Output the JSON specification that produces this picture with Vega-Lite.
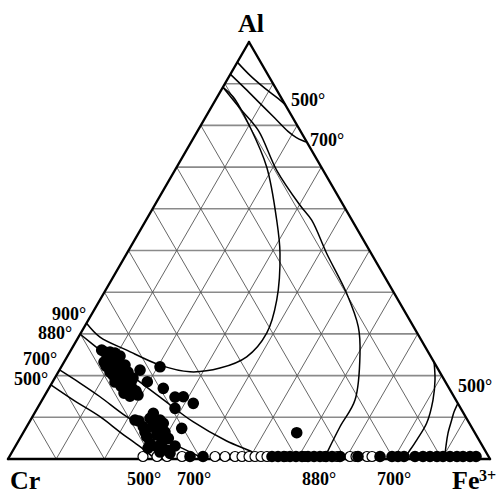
{
  "$schema": "https://vega.github.io/schema/vega-lite/v6.json",
  "width": 482,
  "height": 417,
  "autosize": {"type": "none"},
  "padding": {"left": 8, "top": 42, "right": 12, "bottom": 36},
  "background": "white",
  "config": {"view": {"stroke": null}},
  "datasets": {
    "hgrid": [
      {"x": 5, "y": 8.66, "x2": 95, "y2": 8.66},
      {"x": 10, "y": 17.32, "x2": 90, "y2": 17.32},
      {"x": 15, "y": 25.98, "x2": 85, "y2": 25.98},
      {"x": 20, "y": 34.64, "x2": 80, "y2": 34.64},
      {"x": 25, "y": 43.3, "x2": 75, "y2": 43.3},
      {"x": 30, "y": 51.96, "x2": 70, "y2": 51.96},
      {"x": 35, "y": 60.62, "x2": 65, "y2": 60.62},
      {"x": 40, "y": 69.28, "x2": 60, "y2": 69.28},
      {"x": 45, "y": 77.94, "x2": 55, "y2": 77.94}
    ],
    "dgrid": [
      {"x": 10, "y": 0, "x2": 55, "y2": 77.94},
      {"x": 20, "y": 0, "x2": 60, "y2": 69.28},
      {"x": 30, "y": 0, "x2": 65, "y2": 60.62},
      {"x": 40, "y": 0, "x2": 70, "y2": 51.96},
      {"x": 50, "y": 0, "x2": 75, "y2": 43.3},
      {"x": 60, "y": 0, "x2": 80, "y2": 34.64},
      {"x": 70, "y": 0, "x2": 85, "y2": 25.98},
      {"x": 80, "y": 0, "x2": 90, "y2": 17.32},
      {"x": 90, "y": 0, "x2": 95, "y2": 8.66},
      {"x": 10, "y": 0, "x2": 5, "y2": 8.66},
      {"x": 20, "y": 0, "x2": 10, "y2": 17.32},
      {"x": 30, "y": 0, "x2": 15, "y2": 25.98},
      {"x": 40, "y": 0, "x2": 20, "y2": 34.64},
      {"x": 50, "y": 0, "x2": 25, "y2": 43.3},
      {"x": 60, "y": 0, "x2": 30, "y2": 51.96},
      {"x": 70, "y": 0, "x2": 35, "y2": 60.62},
      {"x": 80, "y": 0, "x2": 40, "y2": 69.28},
      {"x": 90, "y": 0, "x2": 45, "y2": 77.94}
    ],
    "edges": [
      {"x": 0, "y": 0, "x2": 100, "y2": 0},
      {"x": 0, "y": 0, "x2": 50, "y2": 86.6},
      {"x": 100, "y": 0, "x2": 50, "y2": 86.6}
    ],
    "curves": [
      {"c": "900", "i": 0, "x": 44.6, "y": 77.2},
      {"c": "900", "i": 1, "x": 46.74, "y": 75.17},
      {"c": "900", "i": 2, "x": 50.21, "y": 68.94},
      {"c": "900", "i": 3, "x": 53.67, "y": 60.64},
      {"c": "900", "i": 4, "x": 55.75, "y": 49.59},
      {"c": "900", "i": 5, "x": 56.43, "y": 42.74},
      {"c": "900", "i": 6, "x": 55.75, "y": 32.99},
      {"c": "900", "i": 7, "x": 53.67, "y": 26.14},
      {"c": "900", "i": 8, "x": 49.52, "y": 21.22},
      {"c": "900", "i": 9, "x": 43.98, "y": 18.88},
      {"c": "900", "i": 10, "x": 37.76, "y": 18.11},
      {"c": "900", "i": 11, "x": 31.54, "y": 19.5},
      {"c": "900", "i": 12, "x": 24.63, "y": 22.61},
      {"c": "900", "i": 13, "x": 19.09, "y": 25.31},
      {"c": "900", "i": 14, "x": 16.3, "y": 28.2},
      {"c": "880a", "i": 0, "x": 44.6, "y": 77.2},
      {"c": "880a", "i": 1, "x": 48.13, "y": 72.82},
      {"c": "880a", "i": 2, "x": 51.93, "y": 68.26},
      {"c": "880a", "i": 3, "x": 55.75, "y": 59.96},
      {"c": "880a", "i": 4, "x": 60.58, "y": 52.7},
      {"c": "880a", "i": 5, "x": 63.01, "y": 49.59},
      {"c": "880a", "i": 6, "x": 66.12, "y": 42.68},
      {"c": "880a", "i": 7, "x": 70.27, "y": 34.38},
      {"c": "880a", "i": 8, "x": 72.68, "y": 27.45},
      {"c": "880a", "i": 9, "x": 73.03, "y": 21.93},
      {"c": "880a", "i": 10, "x": 71.99, "y": 12.24},
      {"c": "880a", "i": 11, "x": 68.88, "y": 6.7},
      {"c": "880a", "i": 12, "x": 66.12, "y": 1.18},
      {"c": "880a", "i": 13, "x": 65.56, "y": 0},
      {"c": "880b", "i": 0, "x": 15.0, "y": 25.9},
      {"c": "880b", "i": 1, "x": 19.09, "y": 22.61},
      {"c": "880b", "i": 2, "x": 24.63, "y": 18.11},
      {"c": "880b", "i": 3, "x": 31.54, "y": 12.86},
      {"c": "880b", "i": 4, "x": 38.38, "y": 7.74},
      {"c": "880b", "i": 5, "x": 45.37, "y": 3.73},
      {"c": "880b", "i": 6, "x": 50.56, "y": 1.51},
      {"c": "880b", "i": 7, "x": 53.11, "y": 0},
      {"c": "700a", "i": 0, "x": 10.7, "y": 18.5},
      {"c": "700a", "i": 1, "x": 14.94, "y": 15.77},
      {"c": "700a", "i": 2, "x": 19.09, "y": 12.93},
      {"c": "700a", "i": 3, "x": 24.63, "y": 8.78},
      {"c": "700a", "i": 4, "x": 31.54, "y": 4.63},
      {"c": "700a", "i": 5, "x": 39.83, "y": 0.48},
      {"c": "700a", "i": 6, "x": 41.08, "y": 0},
      {"c": "500a", "i": 0, "x": 8.9, "y": 15.4},
      {"c": "500a", "i": 1, "x": 13.9, "y": 12.03},
      {"c": "500a", "i": 2, "x": 19.09, "y": 8.78},
      {"c": "500a", "i": 3, "x": 23.24, "y": 5.6},
      {"c": "500a", "i": 4, "x": 27.39, "y": 2.55},
      {"c": "500a", "i": 5, "x": 30.08, "y": 0.48},
      {"c": "500a", "i": 6, "x": 31.12, "y": 0},
      {"c": "500t", "i": 0, "x": 47.61, "y": 82.37},
      {"c": "500t", "i": 1, "x": 50.21, "y": 79.67},
      {"c": "500t", "i": 2, "x": 53.32, "y": 76.97},
      {"c": "500t", "i": 3, "x": 56.02, "y": 74.9},
      {"c": "500t", "i": 4, "x": 57.57, "y": 73.55},
      {"c": "700t", "i": 0, "x": 46.16, "y": 79.88},
      {"c": "700t", "i": 1, "x": 49.17, "y": 76.97},
      {"c": "700t", "i": 2, "x": 52.28, "y": 73.86},
      {"c": "700t", "i": 3, "x": 55.39, "y": 70.75},
      {"c": "700t", "i": 4, "x": 58.09, "y": 68.05},
      {"c": "700t", "i": 5, "x": 59.75, "y": 66.8},
      {"c": "700t", "i": 6, "x": 61.2, "y": 66.08},
      {"c": "700t", "i": 7, "x": 62.0, "y": 65.8},
      {"c": "700r", "i": 0, "x": 88.4, "y": 20.12},
      {"c": "700r", "i": 1, "x": 88.59, "y": 16.39},
      {"c": "700r", "i": 2, "x": 88.17, "y": 12.24},
      {"c": "700r", "i": 3, "x": 86.87, "y": 7.47},
      {"c": "700r", "i": 4, "x": 84.79, "y": 3.94},
      {"c": "700r", "i": 5, "x": 82.99, "y": 1.24},
      {"c": "700r", "i": 6, "x": 82.16, "y": 0},
      {"c": "500r", "i": 0, "x": 93.34, "y": 11.56},
      {"c": "500r", "i": 1, "x": 92.53, "y": 9.75},
      {"c": "500r", "i": 2, "x": 92.05, "y": 8.09},
      {"c": "500r", "i": 3, "x": 91.29, "y": 5.39},
      {"c": "500r", "i": 4, "x": 90.87, "y": 2.7},
      {"c": "500r", "i": 5, "x": 90.56, "y": 0}
    ],
    "open": [
      {"x": 28.01, "y": 0.52}, {"x": 30.91, "y": 0.52}, {"x": 32.99, "y": 0.52},
      {"x": 36.1, "y": 0.52}, {"x": 42.95, "y": 0.52}, {"x": 45.02, "y": 0.52},
      {"x": 47.1, "y": 0.52}, {"x": 48.55, "y": 0.52}, {"x": 50.0, "y": 0.52},
      {"x": 51.24, "y": 0.52}, {"x": 52.49, "y": 0.52}, {"x": 53.73, "y": 0.52},
      {"x": 57.47, "y": 0.52}, {"x": 61.62, "y": 0.52}, {"x": 65.77, "y": 0.52},
      {"x": 68.26, "y": 0.52}, {"x": 70.95, "y": 0.52}, {"x": 72.2, "y": 0.52},
      {"x": 74.48, "y": 0.52}, {"x": 75.52, "y": 0.52}
    ],
    "filled": [
      {"x": 19.44, "y": 22.61}, {"x": 21.16, "y": 22.2}, {"x": 22.2, "y": 21.99},
      {"x": 20.75, "y": 20.95}, {"x": 21.78, "y": 20.54}, {"x": 22.82, "y": 20.12},
      {"x": 20.33, "y": 19.29}, {"x": 21.37, "y": 18.88}, {"x": 22.41, "y": 18.46},
      {"x": 23.44, "y": 18.05}, {"x": 21.78, "y": 17.43}, {"x": 23.03, "y": 16.8},
      {"x": 24.07, "y": 16.39}, {"x": 24.9, "y": 15.77}, {"x": 23.44, "y": 15.15},
      {"x": 24.69, "y": 14.73}, {"x": 25.73, "y": 14.73}, {"x": 26.56, "y": 14.11},
      {"x": 25.31, "y": 13.07}, {"x": 22.82, "y": 19.29}, {"x": 27.39, "y": 18.46},
      {"x": 20.12, "y": 22.2}, {"x": 23.24, "y": 21.37}, {"x": 24.27, "y": 19.5},
      {"x": 19.92, "y": 20.12}, {"x": 24.9, "y": 18.05}, {"x": 25.93, "y": 16.8},
      {"x": 24.07, "y": 13.69}, {"x": 26.97, "y": 13.28}, {"x": 22.2, "y": 15.98},
      {"x": 21.16, "y": 18.05}, {"x": 25.52, "y": 15.98},
      {"x": 31.54, "y": 19.15}, {"x": 28.9, "y": 16.04}, {"x": 32.22, "y": 14.67},
      {"x": 34.65, "y": 12.86}, {"x": 36.37, "y": 12.93}, {"x": 38.44, "y": 11.56},
      {"x": 34.65, "y": 10.52}, {"x": 26.35, "y": 8.09}, {"x": 30.15, "y": 9.48},
      {"x": 29.46, "y": 8.44}, {"x": 31.54, "y": 8.09}, {"x": 32.22, "y": 7.41},
      {"x": 28.07, "y": 6.7}, {"x": 36.04, "y": 6.37}, {"x": 28.78, "y": 4.63},
      {"x": 30.85, "y": 4.98}, {"x": 33.26, "y": 4.29}, {"x": 29.46, "y": 3.26},
      {"x": 30.85, "y": 2.55}, {"x": 32.93, "y": 1.87}, {"x": 33.61, "y": 1.18},
      {"x": 30.91, "y": 6.02}, {"x": 28.42, "y": 5.6}, {"x": 31.95, "y": 3.53},
      {"x": 30.08, "y": 6.85}, {"x": 32.57, "y": 5.6}, {"x": 29.05, "y": 2.28},
      {"x": 31.54, "y": 1.45}, {"x": 34.65, "y": 2.7}, {"x": 27.18, "y": 7.88},
      {"x": 59.9, "y": 5.46},
      {"x": 37.76, "y": 0.52}, {"x": 40.46, "y": 0.52}, {"x": 54.77, "y": 0.52},
      {"x": 56.02, "y": 0.52}, {"x": 57.26, "y": 0.52}, {"x": 58.51, "y": 0.52},
      {"x": 59.75, "y": 0.52}, {"x": 61.0, "y": 0.52}, {"x": 62.24, "y": 0.52},
      {"x": 63.49, "y": 0.52}, {"x": 64.73, "y": 0.52}, {"x": 65.98, "y": 0.52},
      {"x": 67.22, "y": 0.52}, {"x": 68.88, "y": 0.52}, {"x": 72.61, "y": 0.52},
      {"x": 77.18, "y": 0.52}, {"x": 79.67, "y": 0.52}, {"x": 80.91, "y": 0.52},
      {"x": 82.16, "y": 0.52}, {"x": 84.44, "y": 0.52}, {"x": 86.1, "y": 0.52},
      {"x": 87.55, "y": 0.52}, {"x": 89.0, "y": 0.52}, {"x": 90.25, "y": 0.52},
      {"x": 91.7, "y": 0.52}, {"x": 93.15, "y": 0.52}, {"x": 94.4, "y": 0.52},
      {"x": 95.85, "y": 0.52}, {"x": 97.1, "y": 0.52}
    ],
    "vlab": [
      {"t": "Al", "x": 47.72, "y": 88.59},
      {"t": "Cr", "x": 0.41, "y": -6.22},
      {"t": "Fe", "x": 92.12, "y": -6.22}
    ],
    "sup": [
      {"t": "3+", "x": 97.7, "y": -4.6}
    ],
    "tlab": [
      {"t": "500°", "x": 58.71, "y": 73.24},
      {"t": "700°", "x": 62.66, "y": 64.94},
      {"t": "900°", "x": 9.13, "y": 28.8},
      {"t": "880°", "x": 6.22, "y": 25.0},
      {"t": "700°", "x": 3.11, "y": 19.5},
      {"t": "500°", "x": 1.24, "y": 15.35},
      {"t": "500°", "x": 24.69, "y": -5.39},
      {"t": "700°", "x": 35.06, "y": -5.39},
      {"t": "880°", "x": 61.0, "y": -5.39},
      {"t": "700°", "x": 76.56, "y": -5.39},
      {"t": "500°", "x": 93.36, "y": 13.9}
    ]
  },
  "layer": [
    {
      "data": {"name": "hgrid"},
      "mark": {"type": "rule", "color": "#8a8a8a", "strokeWidth": 1.6},
      "encoding": {
        "x": {"field": "x", "type": "quantitative", "scale": {"domain": [0, 100], "nice": false, "zero": false}, "axis": null},
        "y": {"field": "y", "type": "quantitative", "scale": {"domain": [0, 86.6], "nice": false, "zero": false}, "axis": null},
        "x2": {"field": "x2"},
        "y2": {"field": "y2"}
      }
    },
    {
      "data": {"name": "dgrid"},
      "mark": {"type": "rule", "color": "#555555", "strokeWidth": 0.9},
      "encoding": {
        "x": {"field": "x", "type": "quantitative", "axis": null},
        "y": {"field": "y", "type": "quantitative", "axis": null},
        "x2": {"field": "x2"},
        "y2": {"field": "y2"}
      }
    },
    {
      "data": {"name": "curves"},
      "mark": {"type": "line", "color": "black", "strokeWidth": 1.5, "interpolate": "catmull-rom"},
      "encoding": {
        "x": {"field": "x", "type": "quantitative", "axis": null},
        "y": {"field": "y", "type": "quantitative", "axis": null},
        "detail": {"field": "c", "type": "nominal"},
        "order": {"field": "i", "type": "quantitative"}
      }
    },
    {
      "data": {"name": "edges"},
      "mark": {"type": "rule", "color": "black", "strokeWidth": 2.4, "strokeCap": "round"},
      "encoding": {
        "x": {"field": "x", "type": "quantitative", "axis": null},
        "y": {"field": "y", "type": "quantitative", "axis": null},
        "x2": {"field": "x2"},
        "y2": {"field": "y2"}
      }
    },
    {
      "data": {"name": "open"},
      "mark": {"type": "point", "shape": "circle", "filled": false, "fill": "white", "fillOpacity": 1, "stroke": "black", "strokeWidth": 1.2, "opacity": 1, "size": 100},
      "encoding": {
        "x": {"field": "x", "type": "quantitative", "axis": null},
        "y": {"field": "y", "type": "quantitative", "axis": null}
      }
    },
    {
      "data": {"name": "filled"},
      "mark": {"type": "circle", "color": "black", "opacity": 1, "size": 135},
      "encoding": {
        "x": {"field": "x", "type": "quantitative", "axis": null},
        "y": {"field": "y", "type": "quantitative", "axis": null}
      }
    },
    {
      "data": {"name": "vlab"},
      "mark": {"type": "text", "font": "Liberation Serif", "fontWeight": "bold", "fontSize": 26, "align": "left", "baseline": "alphabetic", "color": "black"},
      "encoding": {
        "x": {"field": "x", "type": "quantitative", "axis": null},
        "y": {"field": "y", "type": "quantitative", "axis": null},
        "text": {"field": "t"}
      }
    },
    {
      "data": {"name": "sup"},
      "mark": {"type": "text", "font": "Liberation Serif", "fontWeight": "bold", "fontSize": 16, "align": "left", "baseline": "alphabetic", "color": "black"},
      "encoding": {
        "x": {"field": "x", "type": "quantitative", "axis": null},
        "y": {"field": "y", "type": "quantitative", "axis": null},
        "text": {"field": "t"}
      }
    },
    {
      "data": {"name": "tlab"},
      "mark": {"type": "text", "font": "Liberation Serif", "fontWeight": "bold", "fontSize": 18, "align": "left", "baseline": "alphabetic", "color": "black"},
      "encoding": {
        "x": {"field": "x", "type": "quantitative", "axis": null},
        "y": {"field": "y", "type": "quantitative", "axis": null},
        "text": {"field": "t"}
      }
    }
  ]
}
